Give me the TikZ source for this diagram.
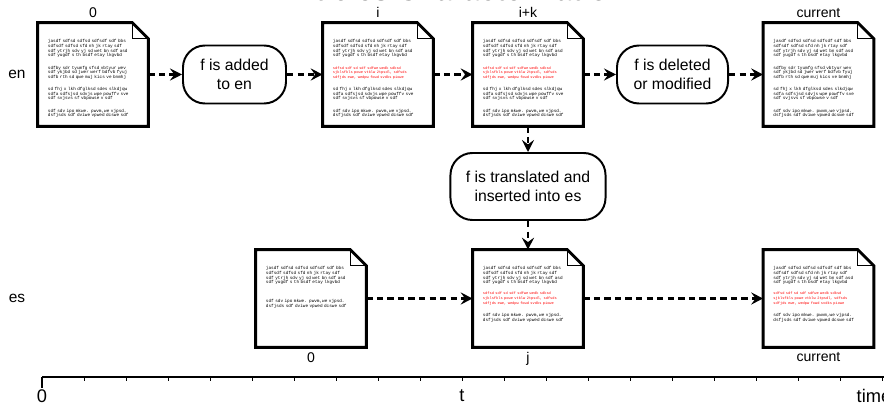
\documentclass[tikz,border=0pt]{standalone}
\usepackage{fontspec}
\setmainfont{Liberation Sans}
\setmonofont{Liberation Mono}
\usetikzlibrary{arrows.meta, positioning}

\newcommand{\paraA}{jasdf sdfsd sdfsd sdfsdf sdf bbs\\ sdfsdf sdfsd sfd nh jk rtay sdf\\ sdf ytrjh sdv yj sd wet bn sdf asd\\ sdf yugdf s th bsdf etay lkgvbd}
\newcommand{\paraB}{sdfby sdr tyumfg sfsd vbtyur wev\\ sdf ykjbd sd jwer werf bdfvb fyuj\\ sdfb rth sd qwe muj kics ve bnmhj}
\newcommand{\paraC}{sd fhj x lkh dfglksd sdes slkdjqw\\ sdfa sdfsjsd sdvjs wpe powffv sve\\ sdf svjsvs sf vbpowse v sdf}
\newcommand{\paraD}{sdf sdv ipo mkwe. pwvm,we vjpsd.\\ dsfjsds sdf dviwe vpwed dcswe sdf}
\newcommand{\paraRed}{{\color{red}\fontsize{2.6}{3.3}\selectfont sdfsd sdf sd sdf sdfwe wedk sdksd\\ sjklsfkls powe vtklw 2tpsdl, sdfsds\\ sdfjds ewe, wedpw fowd svdks piowe}}

\begin{document}
\begin{tikzpicture}[x=0.025cm, y=-0.025cm, every node/.style={font=\fontsize{10}{12}\selectfont}]
  \tikzset{doc/.style={minimum width=2.75cm, minimum height=2.575cm, inner sep=0pt},
    docshort/.style={doc, minimum height=2.425cm},
    doctext/.style={inner sep=0pt, text width=2.4cm, align=left, font=\fontsize{3.1}{3.3}\selectfont\ttfamily},
    event/.style={draw, line width=1.4pt, rounded corners=0.55cm, align=center, font=\fontsize{11.2}{14}\selectfont},
    flow/.style={line width=1.8pt, dash pattern=on 4.5pt off 3pt, -{Stealth[length=3mm, width=3mm, inset=1.1mm]}}}
  \useasboundingbox (0,0) rectangle (884,406);

  \node[anchor=base, font=\bfseries\fontsize{20.7}{24}\selectfont] (title) at (454,1) {Articles Characterization};

  % languages
  \node[font=\fontsize{11}{13}\selectfont] (en) at (17,74.5) {en};
  \node[font=\fontsize{11}{13}\selectfont] (es) at (17,298.5) {es};

  % versions of the article
  \node[doc, label=above:{0}] (en0) at (93,74.5) {};
  \node[doc, label=above:{i}] (eni) at (378,74.5) {};
  \node[doc, label=above:{i+k}] (enik) at (528,74.5) {};
  \node[doc, label=above:{current}] (encur) at (818.5,74.5) {};
  \node[docshort, label=below:{0}] (es0) at (311,298.5) {};
  \node[docshort, label=below:{j}] (esj) at (528,298.5) {};
  \node[docshort, label=below:{current}] (escur) at (818.5,298.5) {};

  \foreach \d in {en0, eni, enik, encur, es0, esj, escur} {
    \draw[line width=2.1pt] (\d.north west) -- ([xshift=-0.4cm]\d.north east)
      -- ([yshift=-0.4cm]\d.north east) -- (\d.south east) -- (\d.south west) -- cycle;
    \draw[line width=0.9pt] ([xshift=-0.4cm]\d.north east) |- ([yshift=-0.4cm]\d.north east);
  }

  \node[doctext, below right=0.42cm and 0.25cm of en0.north west] (en0txt) {\paraA\\[0.19cm]\paraB\\[0.19cm]\paraC\\[0.19cm]\paraD};
  \node[doctext, below right=0.42cm and 0.25cm of eni.north west] (enitxt) {\paraA\\[0.19cm]\paraRed\\[0.19cm]\paraC\\[0.19cm]\paraD};
  \node[doctext, below right=0.42cm and 0.25cm of enik.north west] (eniktxt) {\paraA\\[0.19cm]\paraRed\\[0.19cm]\paraC\\[0.19cm]\paraD};
  \node[doctext, below right=0.42cm and 0.25cm of encur.north west] (encurtxt) {\paraA\\[0.19cm]\paraB\\[0.19cm]\paraC\\[0.19cm]\paraD};
  \node[doctext, below right=0.42cm and 0.25cm of es0.north west] (es0txt) {\paraA\\[0.36cm]\paraD};
  \node[doctext, below right=0.42cm and 0.25cm of esj.north west] (esjtxt) {\paraA\\[0.16cm]\paraRed\\[0.19cm]\paraD};
  \node[doctext, below right=0.42cm and 0.25cm of escur.north west] (escurtxt) {\paraA\\[0.16cm]\paraRed\\[0.19cm]\paraD};

  % events
  \node[event, minimum width=2.575cm, minimum height=1.45cm] (added) at (234.5,74.5) {f is added\\to en};
  \node[event, minimum width=2.775cm, minimum height=1.45cm] (deleted) at (672.5,74.5) {f is deleted\\or modified};
  \node[event, minimum width=3.875cm, minimum height=1.675cm] (translated) at (528,186.5) {f is translated and\\inserted into es};

  \draw[flow] (en0) -- (added);
  \draw[flow] (added) -- (eni);
  \draw[flow] (eni) -- (enik);
  \draw[flow] (enik) -- (deleted);
  \draw[flow] (deleted) -- (encur);
  \draw[flow] (enik) -- (translated);
  \draw[flow] (translated) -- (esj);
  \draw[flow] (es0) -- (esj);
  \draw[flow] (esj) -- (escur);

  % time axis
  \draw[line width=1.4pt] (42,377) -- (884,377);
  \draw[line width=1pt] (42,377) -- (42,388);
  \foreach \k in {1,...,20}
    \draw[line width=0.6pt] ({42+42*\k},377) -- ({42+42*\k},381);
  \node[font=\fontsize{13}{15}\selectfont] (t0) at (42,396) {0};
  \node[font=\fontsize{13}{15}\selectfont] (tt) at (462,396) {t};
  \node[font=\fontsize{13}{15}\selectfont] (ttime) at (874,396) {time};
\end{tikzpicture}
\end{document}
